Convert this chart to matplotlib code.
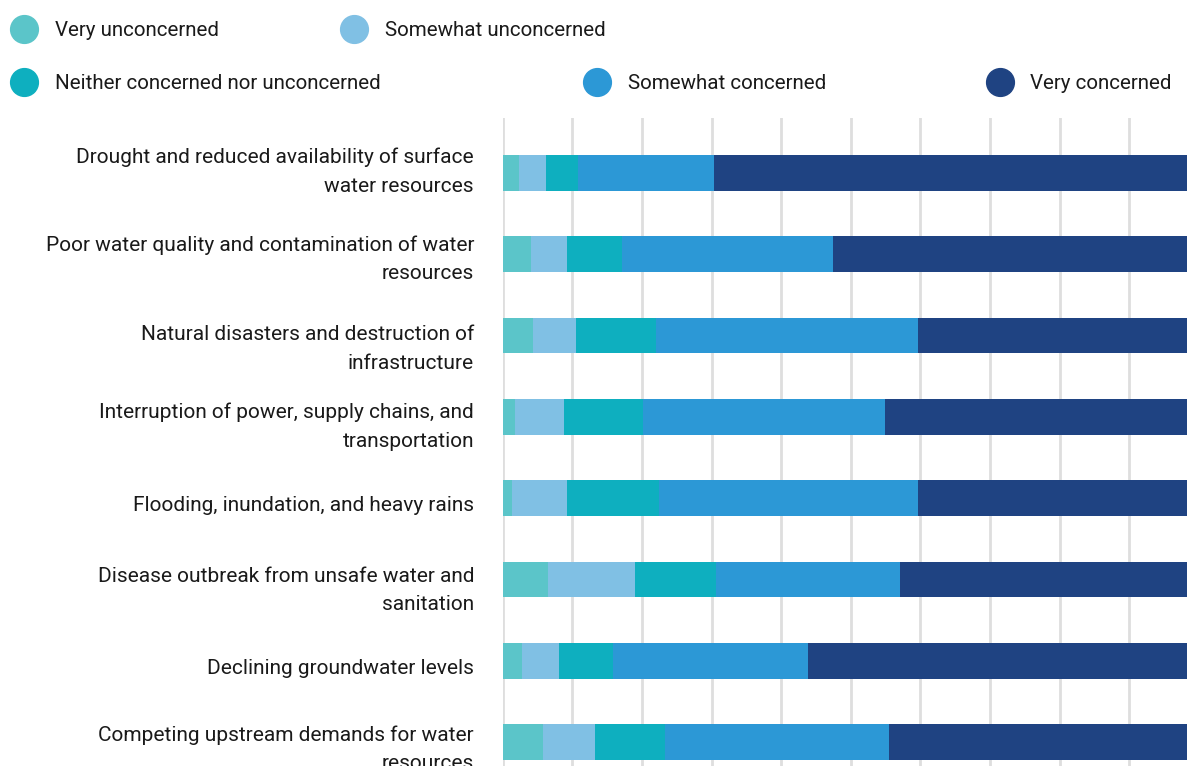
import matplotlib
matplotlib.use("Agg")
import matplotlib.pyplot as plt
from matplotlib.lines import Line2D
from matplotlib.transforms import ScaledTranslation

plt.rcParams["font.family"] = ["Roboto", "DejaVu Sans"]

categories = [
    "Drought and reduced availability of surface\nwater resources",
    "Poor water quality and contamination of water\nresources",
    "Natural disasters and destruction of\ninfrastructure",
    "Interruption of power, supply chains, and\ntransportation",
    "Flooding, inundation, and heavy rains",
    "Disease outbreak from unsafe water and\nsanitation",
    "Declining groundwater levels",
    "Competing upstream demands for water\nresources",
]
series_names = [
    "Very unconcerned",
    "Somewhat unconcerned",
    "Neither concerned nor unconcerned",
    "Somewhat concerned",
    "Very concerned",
]
very_unconcerned = [2.3, 4.1, 4.4, 1.8, 1.3, 6.5, 2.8, 5.8]
somewhat_unconcerned = [3.9, 5.2, 6.1, 7.0, 7.9, 12.5, 5.3, 7.5]
neither = [4.6, 7.8, 11.5, 11.4, 13.3, 11.6, 7.8, 10.0]
somewhat_concerned = [19.5, 30.3, 37.7, 34.7, 37.2, 26.5, 27.9, 32.2]
very_concerned = [69.7, 52.7, 40.3, 45.1, 40.3, 42.9, 56.2, 44.5]
series = [very_unconcerned, somewhat_unconcerned, neither,
          somewhat_concerned, very_concerned]
colors = ["#5BC5C9", "#80C0E4", "#0EAFBF", "#2C98D6", "#1F4382"]

W, H = 1187, 766
DPI = 100
fig = plt.figure(figsize=(W / DPI, H / DPI), dpi=DPI)

# plot area in pixel terms: 0% at x=503, 10% steps of ~69.6 px
x0, step10 = 502.7, 69.63
top_px, row_px, first_center = 118, 81.3, 173
ax_w = step10 * 10
ax = fig.add_axes([x0 / W, 0, ax_w / W, (H - top_px) / H])
ax.set_xlim(0, 100)
y_top = -(first_center - top_px) / row_px
y_bot = (H - first_center) / row_px
ax.set_ylim(y_bot, y_top)

ypos = list(range(len(categories)))
left = [0.0] * len(categories)
for vals, col, name in zip(series, colors, series_names):
    ax.barh(ypos, vals, left=left, height=0.44, color=col, label=name,
            zorder=2, linewidth=0)
    left = [l + v for l, v in zip(left, vals)]

ax.set_xticks(range(0, 101, 10))
ax.grid(axis="x", color="#DEDEDE", linewidth=2, zorder=0)
ax.tick_params(axis="both", length=0, labelbottom=False, labelleft=False)
ax.set_yticks(ypos)
for s in ax.spines.values():
    s.set_visible(False)

# category labels: right-aligned; offset (px) of the first line's baseline
# below the bar centre; "baseline" anchoring uses the last line
baseline_shift = [-10.3, -4, 4, 0.7, 13, 2, 13, -2]
line_px = 29
label_gap = 28.7
for y, text, dy in zip(ypos, categories, baseline_shift):
    last_dy = dy + line_px * text.count("\n")
    tr = ax.get_yaxis_transform() + ScaledTranslation(
        -label_gap / DPI, -last_dy / DPI, fig.dpi_scale_trans)
    ax.text(0, y, text, transform=tr, ha="right", va="baseline",
            multialignment="right", fontsize=15, color="#1a1a1a",
            linespacing=1.63, clip_on=False)

# legend laid out in two rows
legend_items = [
    (0, 24, 29, 55),
    (1, 354, 29, 385),
    (2, 24, 82, 55),
    (3, 597, 82, 628),
    (4, 1000, 82, 1030),
]
for idx, mx, my, tx in legend_items:
    fig.add_artist(Line2D([mx / W], [1 - my / H], marker="o", markersize=20,
                          color=colors[idx], linestyle="none",
                          transform=fig.transFigure))
    fig.text(tx / W, 1 - (my + 1.5) / H, series_names[idx], fontsize=14.8,
             color="#1a1a1a", va="center", ha="left")

fig.savefig("out.png", dpi=DPI)
